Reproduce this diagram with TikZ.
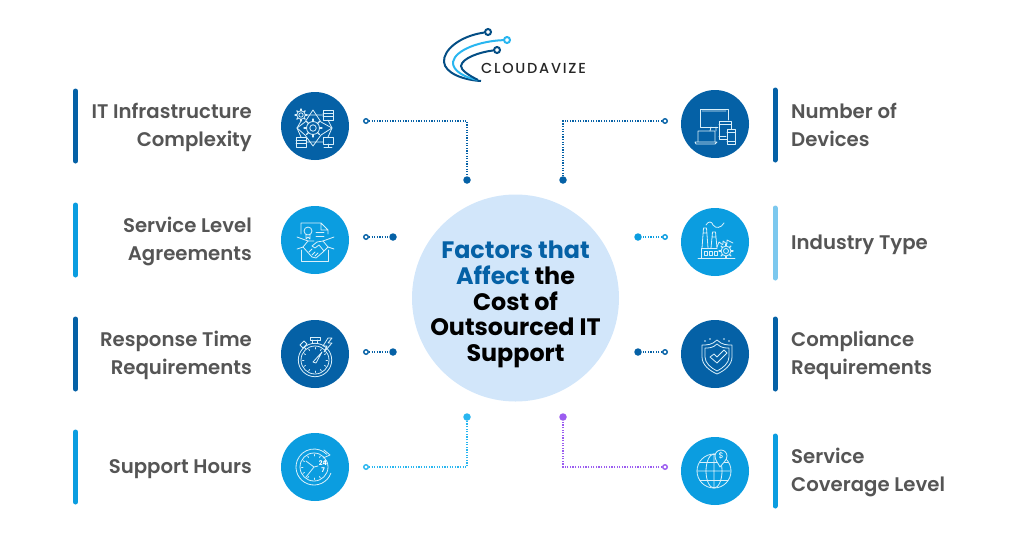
\documentclass[tikz,border=0pt]{standalone}
\usepackage{fontspec}
\setmainfont{Poppins}
\newfontfamily\labelfont{Poppins SemiBold}
\newfontfamily\logofont{Poppins Medium}
\usetikzlibrary{arrows.meta}
\definecolor{navyblue}{HTML}{0561A6}
\definecolor{midblue}{HTML}{0B9DE0}
\definecolor{paleblue}{HTML}{7CC8EE}
\definecolor{skyblue}{HTML}{29B6F0}
\definecolor{violet}{HTML}{9B5CF0}
\definecolor{hubfill}{HTML}{D2E6FA}
\definecolor{labelgrey}{HTML}{555555}
\tikzset{
  barlabel/.style={font=\labelfont\fontsize{19.7}{28}\selectfont, text=labelgrey, inner sep=0pt},
  hubtitle/.style={font=\bfseries\fontsize{23.8}{25.8}\selectfont, align=center, inner sep=0pt},
  iconbg/.style={circle, minimum size=68pt, inner sep=0pt},
  sidebar/.style={line width=5pt, line cap=round},
  wire/.style={line width=1.2pt, dash pattern=on 1.2pt off 1.4pt},
  wiredot/.style={circle, minimum size=7.5pt, inner sep=0pt},
  wireend/.style={circle, minimum size=4.5pt, inner sep=0pt, fill=white, line width=1.4pt},
  ln/.style={draw=white!85!midblue, line width=.8pt, line join=round, line cap=round},
  logoring/.style={circle, minimum size=6pt, inner sep=0pt, fill=white, line width=2pt},
  % small cog, used in three of the icons
  pics/cog/.style={code={
    \draw[ln] (0,0) circle (#1*.72);
    \draw[ln] (0,0) circle (#1*.36);
    \foreach \a in {0,45,...,315}
      \draw[ln, line width=1.3pt] (\a:#1*.72) -- (\a:#1);
  }},
  pics/rack/.style={code={
    \draw[ln] (-5,-5) rectangle (5,5);
    \draw[ln] (-5,-1.7) -- (5,-1.7) (-5,1.7) -- (5,1.7);
  }},
  pics/infra/.style={code={
    \pic at (-2,2) {cog=9};
    \pic at (-14,-11) {cog=6};
    \pic at (13,-11) {rack};
    \pic at (-14,16) {rack};
    \draw[ln] (8,11) rectangle (18,18) (13,18) -- (13,21) (9,21) -- (17,21);
    \draw[ln] (-2,-16) -- (-10,-4) -- (-18,2) -- (-10,9) -- (-2,20) -- (6,9) -- (17,2) -- (6,-4) -- cycle;
    \draw[ln] (-8,-11) -- (8,-11) (-9,16) -- (8,16) (-14,-5) -- (-18,2) -- (-14,11) (13,-6) -- (17,2) -- (13,11);
  }},
  pics/deal/.style={code={
    \draw[ln] (-14,-6) -- (-14,-17) -- (6,-17) -- (13,-10) -- (13,-6) (6,-17) -- (6,-10) -- (13,-10);
    \draw[ln] (-14,10) -- (-14,21) -- (13,21) -- (13,10);
    \draw[ln] (-7,-9) circle (4) (-9,-6) -- (-9,-1) -- (-7,-3) -- (-5,-1) -- (-5,-6);
    \draw[ln] (1,-8) -- (9,-8) (1,-4) -- (9,-4);
    \draw[ln] (-18,-3) -- (-7,1) (19,-3) -- (8,1) (-18,9) -- (-12,7) (19,9) -- (13,7);
    \draw[ln] (-7,1) -- (-12,7) -- (-3,17) -- (1,18) -- (8,12) -- (13,7) -- (8,1) -- (2,2) -- (-3,6) -- (0,8) -- (4,5) -- (9,11);
    \draw[ln] (-7,1) -- (-1,1) (-6,12) -- (-3,9) (-3,15) -- (0,12) (0,16) -- (3,13);
  }},
  pics/watch/.style={code={
    \draw[ln] (0,6) circle (16.7) (0,6) circle (14);
    \foreach \a in {0,30,...,330}
      \draw[ln] ([shift={(0,6)}]\a:12.5) -- ([shift={(0,6)}]\a:11);
    \draw[ln] (-2,8) -- (7,-2) -- (1,9) -- cycle;
    \draw[ln] (-2.5,-11) -- (-2.5,-14) (2.5,-11) -- (2.5,-14) (-5,-17) rectangle (5,-14);
    \draw[ln] (-11,-7) -- (-9,-5) (-15,-9) -- (-11,-13) -- (-8,-10) -- (-12,-6) -- cycle;
    \draw[ln] (13,-16) -- (8,-8) -- (12,-8) -- (9,-2) -- (17,-11) -- (13,-11) -- (17,-16) -- cycle;
  }},
  pics/clock/.style={code={
    \draw[ln] (-1,0) circle (14);
    \draw[ln] (-1,0) ++(20:18) arc (20:315:18);
    \draw[ln] (9,-17) -- (15,-12) -- (8,-9);
    \foreach \a in {180,210,240,270,300,330,60,90,120,150}
      \draw[ln] ([shift={(-1,0)}]\a:12.5) -- ([shift={(-1,0)}]\a:11);
    \draw[ln] (-9,-6) -- (-1,0) -- (-9,10) (-1,0) -- (3,-1);
    \node[text=white, font=\bfseries\fontsize{6.5}{7}\selectfont, align=center, inner sep=0pt] (clocktext) at (8,0) {24\\7};
  }},
  pics/devices/.style={code={
    \draw[ln] (3,3) -- (-15,3) -- (-15,-15) -- (13,-15) -- (13,-4);
    \draw[ln] (-13,-13) -- (11,-13) (-4,3) -- (-5,7) (1,3) -- (1,7);
    \draw[ln] (4,-3) rectangle (16,15) (4,0) -- (16,0) (4,12) -- (11,12);
    \draw[ln, fill=navyblue] (12,5) rectangle (20,20);
    \draw[ln] (12,8) -- (20,8) (12,17) -- (20,17);
    \draw[ln] (-17,17) -- (-17,7) -- (0,7) -- (0,17) (-20,18) -- (-19,20) -- (0,20) -- (2,18) -- cycle;
  }},
  pics/plant/.style={code={
    \draw[ln] (-17,16) -- (20,16);
    \draw[ln] (-14,16) -- (-14,6) -- (2,6);
    \draw[ln] (-13,6) -- (-11.5,-14) -- (-8.5,-14) -- (-7,6) (-12,-9) -- (-8,-9);
    \draw[ln] (-4,6) -- (-2.5,-10) -- (.5,-10) -- (2,6) (-3,-5) -- (1,-5);
    \draw[ln] (-9,-17) .. controls (-7,-21) and (-3,-21) .. (-2,-17) .. controls (1,-13) and (6,-14) .. (9,-19);
    \draw[ln] (2,5) -- (4,0) -- (8,3) -- (8,-1) -- (12,2) -- (12,-2) -- (18,1);
    \foreach \x in {-11,-6,-1}
      \draw[ln] (\x,9) rectangle (\x+3,13);
    \fill[midblue] (11,9) circle (7);
    \pic at (11,9) {cog=7};
  }},
  pics/shieldtick/.style={code={
    \draw[ln] (2,-14) .. controls (7,-9) and (12,-9) .. (17,-9) -- (17,3) .. controls (17,11) and (9,17) .. (2,20) .. controls (-5,17) and (-13,11) .. (-13,3) -- (-13,-9) .. controls (-8,-9) and (-3,-9) .. cycle;
    \draw[ln] (2,-10) .. controls (6,-6) and (10,-6) .. (14,-6) -- (14,3) .. controls (14,9) and (8,14) .. (2,17) .. controls (-4,14) and (-10,9) .. (-10,3) -- (-10,-6) .. controls (-6,-6) and (-2,-6) .. cycle;
    \draw[ln] (-5,3) -- (-1,0) -- (2,3) -- (9,-4) -- (12,-1) -- (2,9) -- cycle;
    \foreach \x/\y in {-10/-13,-5/-15,9/-15,14/-13}
      \fill[white!85!midblue] (\x,\y) circle (.9);
  }},
  pics/globepin/.style={code={
    \draw[ln] (-1,0) circle (17);
    \draw[ln] (-1,0) ellipse (8 and 17) (-1,-17) -- (-1,17) (-18,0) -- (16,0);
    \draw[ln] (-15,-9) -- (13,-9) (-15,9) -- (13,9);
    \draw[ln, fill=midblue] (5,-4) .. controls (3,-8) and (0,-11) .. (0,-15) arc (180:360:6) .. controls (12,-11) and (8,-8) .. cycle;
    \node[text=white, font=\fontsize{8}{8}\selectfont, inner sep=0pt] (pindollar) at (6,-15) {\$};
  }}
}

\begin{document}
\begin{tikzpicture}[x=1pt, y=-1pt]
\useasboundingbox (0,0) rectangle (1024,536);

% hub
\node [circle, fill=hubfill, minimum size=207pt, inner sep=0pt, name=hub] at (515.5,298) {};
\node [hubtitle, name=hubtext] at (515.5,304.5) {\textcolor{navyblue}{Factors that}\\
  \textcolor{navyblue}{Affect} the\\Cost of\\Outsourced IT\\Support};

% icons and side bars
\foreach [count=\i from 1] \cx/\cy/\barx/\bartop/\c/\bc/\ic in
                  {315/126/75.5/91/navyblue/navyblue/infra,
                   315/240/75.5/205/midblue/midblue/deal,
                   315/354/75.5/319/navyblue/navyblue/watch,
                   315/467/75.5/432/midblue/midblue/clock,
                   715/124/775/90/navyblue/navyblue/devices,
                   715/242/775/208/midblue/paleblue/plant,
                   715/354/775/319/navyblue/navyblue/shieldtick,
                   715/471/775/436/midblue/midblue/globepin}
  {
   \node [iconbg, fill=\c, name=icon-\i] at (\cx,\cy) {};
   \pic at (\cx,\cy) {\ic};
   \draw [sidebar, \bc] (\barx,\bartop) -- ++(0,70);
  }

% labels
\foreach [count=\i from 1] \y/\t in
                  {127/IT Infrastructure\\Complexity,
                   241.5/Service Level\\Agreements,
                   355/Response Time\\Requirements,
                   469.5/Support Hours}
  {
   \node [barlabel, anchor=east, align=right, name=leftlabel-\i] at (252,\y) {\t};
  }
\foreach [count=\i from 1] \y/\t in
                  {125/Number of\\Devices,
                   245/Industry Type,
                   355/Compliance\\Requirements,
                   472.5/Service\\Coverage Level}
  {
   \node [barlabel, anchor=west, align=left, name=rightlabel-\i] at (791,\y) {\t};
  }

% connectors
\foreach \i/\xa/\ya/\xb/\yb/\c in
                  {1/366/121/467/180/navyblue,
                   2/366/237/393/237/navyblue,
                   3/366/352/393/352/navyblue,
                   4/366/467/467/417/skyblue,
                   5/665/121/563/180/navyblue,
                   6/665/237/638/237/midblue,
                   7/665/352/638/352/navyblue,
                   8/665/467/563/417/violet}
  {
   \node [wiredot, fill=\c, name=dot-\i] at (\xb,\yb) {};
   \node [wireend, draw=\c, name=end-\i] at (\xa,\ya) {};
   \draw [wire, \c] (end-\i) -| (dot-\i);
  }

% logo
\node [logoring, draw=navyblue!80!black, name=ring-a] at (488,32) {};
\node [logoring, draw=skyblue, name=ring-b] at (507,40) {};
\node [logoring, draw=navyblue!80!black, name=ring-c] at (497,50) {};
\coordinate (tail-a) at (481,81);
\coordinate (tail-b) at (478,80);
\draw [navyblue!80!black, line width=2pt] (ring-a) .. controls (460,36) and (443,50) .. (444,62) .. controls (445,73) and (463,80) .. (tail-a);
\draw [skyblue, line width=2pt] (ring-b) .. controls (480,41) and (455,50) .. (453,62) .. controls (452,71) and (466,78) .. (tail-b);
\draw [navyblue!80!black, line width=2pt] (ring-c) .. controls (480,52) and (462,58) .. (461,66) .. controls (461,70) and (468,75) .. (tail-b);
\node [anchor=west, inner sep=0pt, text=black!85, font=\logofont\fontsize{14.5}{15}\selectfont, name=logotext] at (481,68) {\addfontfeature{LetterSpace=12}CLOUDAVIZE};

\end{tikzpicture}
\end{document}
